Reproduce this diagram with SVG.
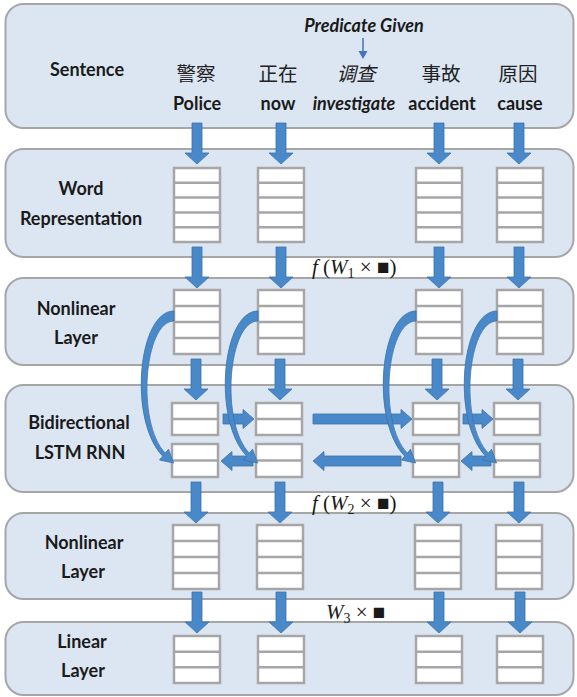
<svg xmlns="http://www.w3.org/2000/svg" xmlns:xlink="http://www.w3.org/1999/xlink" width="577" height="697" viewBox="0 0 577 697">
<defs>
<style>
.panel{fill:#dce6f2;stroke:#a6a6a6;stroke-width:2}
.box{fill:#ffffff;stroke:#a6a6a6;stroke-width:2.5}
.sep{stroke:#a6a6a6;stroke-width:2.5}
.arr{fill:#4a89c9;stroke:#3a72aa;stroke-width:0.8}
.lbl{font-family:Lato,"Liberation Sans",sans-serif;font-weight:bold;font-size:18px;fill:#1a1a1a;text-anchor:middle}
.zh{font-family:"Noto Sans CJK SC",sans-serif;font-size:19.5px;fill:#222;text-anchor:middle}
.math{font-family:"Liberation Serif","DejaVu Serif",serif;font-size:21px;fill:#1a1a1a}
</style>
<polygon id="down" points="-5,0 5,0 5,30 12,30 0,41 -12,30 -5,30"/>
<path id="curl" d="M 0 0 C -36 0, -46 109, -11.3 145.1 L -14.5 149 L -0.5 152 L -5.5 138.2 L -8.7 142.1 C -38 112, -30 10, 0 10 Z"/>
</defs>
<rect width="577" height="697" fill="#ffffff"/>

<g id="sentence">
<rect class="panel" x="5.5" y="4" width="568" height="124" rx="18"/>
<text class="lbl" x="87" y="76">Sentence</text>
<text class="lbl" x="364" y="32" font-style="italic" font-size="19">Predicate Given</text>
<line x1="363" y1="38" x2="363" y2="53" stroke="#4472c4" stroke-width="1.5"/>
<polygon points="358.5,51 367.5,51 363,59" fill="#4472c4"/>
<text class="zh" x="196" y="81">警察</text>
<text class="zh" x="278" y="81">正在</text>
<text class="zh" x="356" y="81" font-style="italic">调查</text>
<text class="zh" x="441" y="81">事故</text>
<text class="zh" x="518" y="81">原因</text>
<text class="lbl" x="197" y="110">Police</text>
<text class="lbl" x="278" y="110">now</text>
<text class="lbl" x="354" y="110" font-style="italic">investigate</text>
<text class="lbl" x="442" y="110">accident</text>
<text class="lbl" x="520" y="110">cause</text>
</g>

<g id="word-representation">
<rect class="panel" x="5.5" y="149" width="568" height="108" rx="18"/>
<text class="lbl" x="81" y="195">Word</text>
<text class="lbl" x="81" y="225">Representation</text>
<g>
<rect class="box" x="174" y="168" width="46" height="74"/>
<rect class="box" x="258" y="168" width="46" height="74"/>
<rect class="box" x="416" y="168" width="46" height="74"/>
<rect class="box" x="497" y="168" width="46" height="74"/>
<path class="sep" d="M174 182.8h46M174 197.6h46M174 212.4h46M174 227.2h46 M258 182.8h46M258 197.6h46M258 212.4h46M258 227.2h46 M416 182.8h46M416 197.6h46M416 212.4h46M416 227.2h46 M497 182.8h46M497 197.6h46M497 212.4h46M497 227.2h46"/>
</g>
</g>

<g id="nonlinear-1">
<rect class="panel" x="5.5" y="278" width="568" height="87" rx="18"/>
<text class="lbl" x="76" y="315">Nonlinear</text>
<text class="lbl" x="76" y="344">Layer</text>
<rect class="box" x="174" y="290" width="46" height="64"/>
<rect class="box" x="258" y="290" width="46" height="64"/>
<rect class="box" x="416" y="290" width="46" height="64"/>
<rect class="box" x="497" y="290" width="46" height="64"/>
<path class="sep" d="M174 306h46M174 322h46M174 338h46 M258 306h46M258 322h46M258 338h46 M416 306h46M416 322h46M416 338h46 M497 306h46M497 322h46M497 338h46"/>
</g>

<g id="bilstm">
<rect class="panel" x="5.5" y="385" width="568" height="107" rx="18"/>
<text class="lbl" x="79" y="429">Bidirectional</text>
<text class="lbl" x="80" y="459">LSTM RNN</text>
<rect class="box" x="172" y="403" width="46" height="32"/>
<rect class="box" x="256" y="403" width="46" height="32"/>
<rect class="box" x="413" y="403" width="46" height="32"/>
<rect class="box" x="494" y="403" width="46" height="32"/>
<rect class="box" x="172" y="444" width="46" height="33"/>
<rect class="box" x="256" y="444" width="46" height="33"/>
<rect class="box" x="413" y="444" width="46" height="33"/>
<rect class="box" x="494" y="444" width="46" height="33"/>
<path class="sep" d="M172 419h46M256 419h46M413 419h46M494 419h46 M172 460.5h46M256 460.5h46M413 460.5h46M494 460.5h46"/>
</g>

<g id="nonlinear-2">
<rect class="panel" x="5.5" y="513" width="568" height="86" rx="18"/>
<text class="lbl" x="84" y="549">Nonlinear</text>
<text class="lbl" x="83" y="578">Layer</text>
<rect class="box" x="173" y="525" width="46" height="64"/>
<rect class="box" x="257" y="525" width="46" height="64"/>
<rect class="box" x="415" y="525" width="46" height="64"/>
<rect class="box" x="496" y="525" width="46" height="64"/>
<path class="sep" d="M173 541h46M173 557h46M173 573h46 M257 541h46M257 557h46M257 573h46 M415 541h46M415 557h46M415 573h46 M496 541h46M496 557h46M496 573h46"/>
</g>

<g id="linear">
<rect class="panel" x="5.5" y="622" width="568" height="73" rx="18"/>
<text class="lbl" x="82" y="648">Linear</text>
<text class="lbl" x="83" y="677">Layer</text>
<rect class="box" x="174" y="636" width="46" height="47"/>
<rect class="box" x="258" y="636" width="46" height="47"/>
<rect class="box" x="416" y="636" width="46" height="47"/>
<rect class="box" x="497" y="636" width="46" height="47"/>
<path class="sep" d="M174 651.7h46M174 667.3h46 M258 651.7h46M258 667.3h46 M416 651.7h46M416 667.3h46 M497 651.7h46M497 667.3h46"/>
</g>

<g id="connectors" class="arr">
<use xlink:href="#down" x="197" y="123"/>
<use xlink:href="#down" x="281" y="123"/>
<use xlink:href="#down" x="439" y="123"/>
<use xlink:href="#down" x="519" y="123"/>
<use xlink:href="#down" x="197" y="247"/>
<use xlink:href="#down" x="281" y="247"/>
<use xlink:href="#down" x="439" y="247"/>
<use xlink:href="#down" x="519" y="247"/>
<use xlink:href="#down" x="196" y="359"/>
<use xlink:href="#down" x="280" y="359"/>
<use xlink:href="#down" x="437" y="359"/>
<use xlink:href="#down" x="518" y="359"/>
<use xlink:href="#down" x="196" y="482"/>
<use xlink:href="#down" x="280" y="482"/>
<use xlink:href="#down" x="438" y="482"/>
<use xlink:href="#down" x="519" y="482"/>
<use xlink:href="#down" x="197" y="592"/>
<use xlink:href="#down" x="281" y="592"/>
<use xlink:href="#down" x="439" y="592"/>
<use xlink:href="#down" x="520" y="592"/>
<polygon points="223,414 243,414 243,409.5 254,419 243,428.5 243,424 223,424"/>
<polygon points="313,414 401,414 401,409.5 412,419 401,428.5 401,424 313,424"/>
<polygon points="463,414 482,414 482,409.5 493,419 482,428.5 482,424 463,424"/>
<polygon points="253,456 232,456 232,451.5 221,461 232,470.5 232,466 253,466"/>
<polygon points="401,456 324,456 324,451.5 313,461 324,470.5 324,466 401,466"/>
<polygon points="491,456 472,456 472,451.5 461,461 472,470.5 472,466 491,466"/>
<use xlink:href="#curl" transform="translate(174,311)"/>
<use xlink:href="#curl" transform="translate(258,311)"/>
<use xlink:href="#curl" transform="translate(416,311)"/>
<use xlink:href="#curl" transform="translate(497,311)"/>
</g>

<g id="formulas">
<text class="math" x="312" y="274"><tspan font-style="italic">f</tspan> (<tspan font-style="italic">W</tspan><tspan font-size="14" dy="4">1</tspan><tspan dy="-4"> × ■)</tspan></text>
<text class="math" x="312" y="510"><tspan font-style="italic">f</tspan> (<tspan font-style="italic">W</tspan><tspan font-size="14" dy="4">2</tspan><tspan dy="-4"> × ■)</tspan></text>
<text class="math" x="326" y="619"><tspan font-style="italic">W</tspan><tspan font-size="14" dy="4">3</tspan><tspan dy="-4"> × ■</tspan></text>
</g>
</svg>
